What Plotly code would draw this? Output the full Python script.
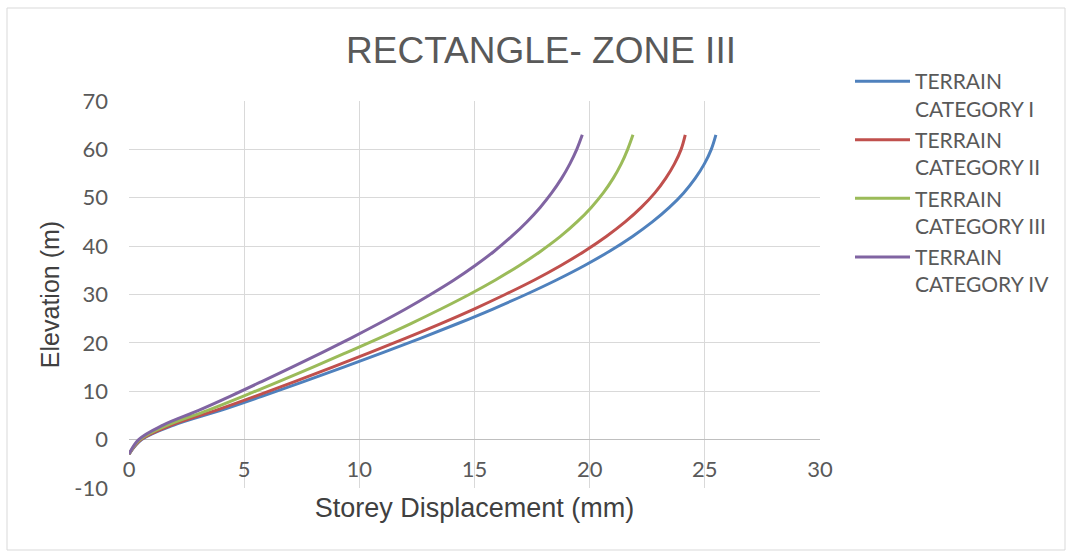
import plotly.graph_objects as go

elevation = [-3, 0, 3, 6, 9, 12, 15, 18, 21, 24, 27, 30, 33, 36, 39, 42, 45, 48, 51, 54, 57, 60, 63]

terrain_cat_1 = [0, 0.55, 1.95, 3.95, 5.8, 7.58, 9.32, 11.02, 12.68, 14.28, 15.8, 17.23, 18.56, 19.78, 20.88, 21.86, 22.72, 23.46, 24.08, 24.58, 24.98, 25.28, 25.48]
terrain_cat_2 = [0, 0.52, 1.85, 3.74, 5.5, 7.19, 8.84, 10.45, 12.02, 13.54, 14.98, 16.33, 17.6, 18.75, 19.79, 20.72, 21.54, 22.24, 22.83, 23.3, 23.68, 23.97, 24.15]
terrain_cat_3 = [0, 0.47, 1.67, 3.39, 4.97, 6.5, 7.99, 9.44, 10.87, 12.24, 13.54, 14.77, 15.91, 16.95, 17.89, 18.73, 19.45, 20.07, 20.59, 21.02, 21.37, 21.65, 21.88]
terrain_cat_4 = [0, 0.42, 1.48, 3.0, 4.41, 5.76, 7.08, 8.38, 9.64, 10.85, 12.01, 13.09, 14.11, 15.03, 15.87, 16.61, 17.27, 17.85, 18.35, 18.78, 19.14, 19.44, 19.68]

series_names = ["TERRAIN<br>CATEGORY I", "TERRAIN<br>CATEGORY II", "TERRAIN<br>CATEGORY III", "TERRAIN<br>CATEGORY IV"]
series_colors = ["#4F81BD", "#C0504D", "#9BBB59", "#8064A2"]
series_values = [terrain_cat_1, terrain_cat_2, terrain_cat_3, terrain_cat_4]

x_ticks = [0, 5, 10, 15, 20, 25, 30]
y_ticks = [-10, 0, 10, 20, 30, 40, 50, 60, 70]
y_tick_text = ["-10", "0", "10", "20", "30", "40", "50", "60", "70"]

fig = go.Figure()
for i, (name, color, xs) in enumerate(zip(series_names, series_colors, series_values)):
    fig.add_trace(go.Scatter(
        x=xs, y=elevation, mode="lines", name=name, legendgroup=f"g{i}",
        line=dict(color=color, width=3, shape="spline", smoothing=1.0),
    ))

W, H = 1072, 558
L, R, T, B = 129, 252, 101, 70
pw, ph = W - L - R, H - T - B

fig.update_layout(
    width=W, height=H,
    margin=dict(l=L, r=R, t=T, b=B, autoexpand=False),
    paper_bgcolor="white", plot_bgcolor="white",
    title=dict(text="RECTANGLE- ZONE III", x=541 / W, xanchor="center",
               y=1 - 50 / H, yanchor="middle",
               font=dict(family="Liberation Sans, Arial", size=37, color="#595959")),
    showlegend=True,
    legend=dict(x=(850 - L) / pw, y=(488 - 61) / ph,
                xanchor="left", yanchor="top", valign="top", itemwidth=55,
                font=dict(family="Lato", size=21, color="#595959"),
                bgcolor="rgba(0,0,0,0)", tracegroupgap=1),
    xaxis=dict(range=[0, 30], tickvals=x_ticks, showgrid=True, gridcolor="#D9D9D9", gridwidth=1,
               zeroline=False, showline=False, ticks="",
               ticklabelposition="inside", ticklabeloverflow="allow", ticklabelstandoff=4,
               tickfont=dict(family="Lato", size=22, color="#595959"),
               title=dict(text="Storey Displacement (mm)", standoff=17,
                          font=dict(family="Liberation Sans, Arial", size=27, color="#404040"))),
    yaxis=dict(range=[-10, 70], tickvals=y_ticks, ticktext=y_tick_text,
               showgrid=True, gridcolor="#D9D9D9", gridwidth=1,
               zeroline=True, zerolinecolor="#BFBFBF", zerolinewidth=1, showline=False, ticks="",
               ticklabelstandoff=20,
               tickfont=dict(family="Lato", size=22, color="#595959"),
               title=dict(text="Elevation (m)", standoff=7,
                          font=dict(family="Liberation Sans, Arial", size=25, color="#404040"))),
)

fig.add_shape(type="rect", xref="paper", yref="paper",
              x0=(7 - L) / pw, x1=(1065 - L) / pw,
              y0=(488 - 550) / ph, y1=(488 - 8) / ph,
              line=dict(color="#D9D9D9", width=1), fillcolor="rgba(0,0,0,0)", layer="below")

fig.write_html("out.html", config={"displayModeBar": False},
               post_script="document.body.style.margin='0px';")
